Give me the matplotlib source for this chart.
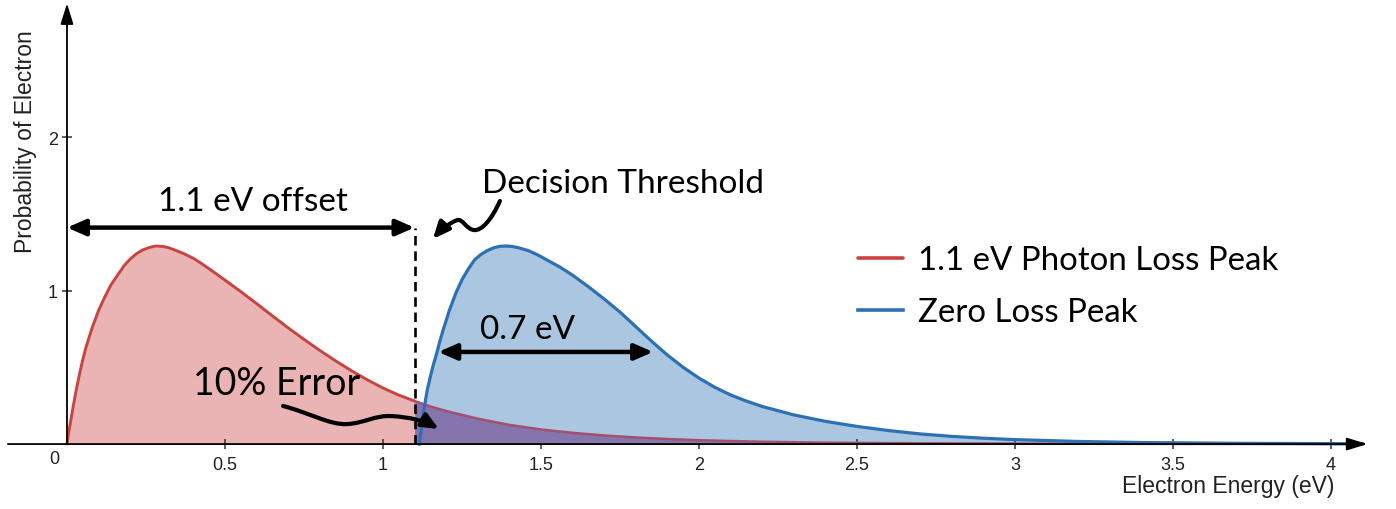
import numpy as np
import matplotlib
matplotlib.use("Agg")
import matplotlib.pyplot as plt
from matplotlib.patches import FancyArrowPatch
from matplotlib.path import Path

# ── data ────────────────────────────────────────────────────────
red_x = [0.000, 0.005, 0.010, 0.020, 0.030, 0.040, 0.050, 0.060, 0.080, 0.100,
         0.120, 0.140, 0.160, 0.180, 0.200, 0.220, 0.240, 0.260, 0.280, 0.300,
         0.320, 0.340, 0.370, 0.400, 0.430, 0.460, 0.500, 0.550, 0.600, 0.650,
         0.700, 0.750, 0.800, 0.850, 0.900, 0.950, 1.000, 1.050, 1.100, 1.150,
         1.200, 1.300, 1.400, 1.500, 1.600, 1.700, 1.800, 1.900, 2.000, 2.200,
         2.400, 2.700, 3.000, 3.500, 4.100]
red_y = [0.00, 0.07, 0.13, 0.25, 0.36, 0.46, 0.55, 0.63, 0.76, 0.87,
         0.96, 1.04, 1.10, 1.16, 1.205, 1.24, 1.265, 1.28, 1.29, 1.288,
         1.28, 1.265, 1.24, 1.21, 1.17, 1.127, 1.068, 0.993, 0.915, 0.835,
         0.757, 0.682, 0.61, 0.542, 0.478, 0.419, 0.365, 0.319, 0.28, 0.245,
         0.215, 0.165, 0.125, 0.095, 0.073, 0.056, 0.043, 0.033, 0.025, 0.015,
         0.009, 0.005, 0.003, 0.001, 0.0]

blue_x = [1.115, 1.120, 1.125, 1.130, 1.140, 1.150, 1.160, 1.170, 1.180, 1.190,
          1.210, 1.230, 1.250, 1.270, 1.290, 1.310, 1.330, 1.350, 1.370, 1.390,
          1.410, 1.430, 1.460, 1.490, 1.520, 1.560, 1.600, 1.650, 1.700, 1.750,
          1.800, 1.850, 1.900, 1.950, 2.000, 2.050, 2.100, 2.150, 2.200, 2.300,
          2.400, 2.500, 2.600, 2.700, 2.800, 2.900, 3.000, 3.200, 3.400, 3.700,
          4.100]
blue_y = [0.00, 0.08, 0.16, 0.23, 0.35, 0.44, 0.52, 0.59, 0.67, 0.74,
          0.87, 0.98, 1.07, 1.14, 1.20, 1.235, 1.26, 1.278, 1.288, 1.29,
          1.287, 1.278, 1.26, 1.232, 1.198, 1.153, 1.10, 1.025, 0.945, 0.86,
          0.765, 0.67, 0.58, 0.50, 0.43, 0.37, 0.32, 0.28, 0.245, 0.19,
          0.148, 0.115, 0.088, 0.066, 0.05, 0.038, 0.029, 0.017, 0.01, 0.005,
          0.002]

threshold = 1.1
offset_y = 1.41
fwhm_x = [1.175, 1.855]
fwhm_y = 0.60

x_ticks = [0.5, 1, 1.5, 2, 2.5, 3, 3.5, 4]
x_ticklabels = ["0.5", "1", "1.5", "2", "2.5", "3", "3.5", "4"]
y_ticks = [1, 2]
y_ticklabels = ["1", "2"]

RED, BLUE = "#c74440", "#2d70b3"
RED_FILL, BLUE_FILL, PURPLE = "#e9b4b3", "#abc6e0", "#8675ad"
ANN_FONT = "Lato"
AX_FONT = "Liberation Sans"

rx, ry = np.array(red_x), np.array(red_y)
bx, by = np.array(blue_x), np.array(blue_y)

# ── canvas ──────────────────────────────────────────────────────
fig = plt.figure(figsize=(13.96, 5.10), dpi=100)
ax = fig.add_axes([0, 0, 1, 1])
ax.set_xlim(-0.212, 4.206)
ax.set_ylim(-0.423, 2.899)

# fills
ax.fill_between(bx, by, 0, color=BLUE_FILL, lw=0, zorder=1)
ax.fill_between(rx, ry, 0, where=rx <= threshold, color=RED_FILL, lw=0, zorder=1)
ax.fill_between(rx, ry, 0, where=rx >= threshold, color=PURPLE, lw=0, zorder=2)

# curves
left = rx <= threshold
right = rx >= threshold
red_line, = ax.plot(rx[left], ry[left], color=RED, lw=2.1, zorder=3,
                    solid_capstyle="round", solid_joinstyle="round",
                    label="1.1 eV Photon Loss Peak")
ax.plot(rx[right], ry[right], color="#a3506f", lw=1.8, zorder=3,
        solid_joinstyle="round")
blue_line, = ax.plot(bx, by, color=BLUE, lw=2.3, zorder=4,
                     solid_joinstyle="round", label="Zero Loss Peak")

# ── axes drawn as arrows through the origin ─────────────────────
for s in ax.spines.values():
    s.set_visible(False)
ax.spines["bottom"].set_position(("data", 0))
ax.spines["left"].set_position(("data", 0))
axis_arrow = dict(arrowstyle="-|>,head_length=0.9,head_width=0.28",
                  lw=1.3, color="black", shrinkA=0, shrinkB=0,
                  mutation_scale=14)
ax.annotate("", xy=(4.115, 0), xytext=(-0.187, 0), zorder=5,
            arrowprops=axis_arrow)
ax.annotate("", xy=(0, 2.87), xytext=(0, 0), zorder=5,
            arrowprops=axis_arrow)

ax.set_xticks(x_ticks)
ax.set_xticklabels(x_ticklabels)
ax.set_yticks(y_ticks)
ax.set_yticklabels(y_ticklabels)
ax.tick_params(direction="inout", length=7, width=1.1, color="#333333",
               labelsize=13, labelcolor="#222222", zorder=6)
ax.tick_params(axis="x", pad=5)
ax.tick_params(axis="y", pad=3)
for lbl in ax.get_xticklabels() + ax.get_yticklabels():
    lbl.set_fontfamily(AX_FONT)
ax.text(-0.04, -0.04, "0", ha="center", va="top", fontsize=13,
        color="#222222", family=AX_FONT)

ax.text(0.0186, 0.7216, "Probability of Electron", transform=ax.transAxes,
        rotation=90, ha="center", va="center", fontsize=16.5,
        color="#222222", family=AX_FONT)
ax.text(0.880, 0.047, "Electron Energy (eV)", transform=ax.transAxes,
        ha="center", va="center", fontsize=16.5, color="#222222",
        family=AX_FONT)

# ── annotations ────────────────────────────────────────────────
ax.plot([threshold, threshold], [0, offset_y], color="black", lw=1.9,
        ls=(0, (3.6, 2.2)), zorder=5)

dbl = dict(arrowstyle="<|-|>,head_length=0.55,head_width=0.24", lw=3.2,
           color="black", shrinkA=0, shrinkB=0, mutation_scale=20)
ax.annotate("", xy=(threshold, offset_y), xytext=(0, offset_y),
            arrowprops=dbl, zorder=6)
ax.annotate("", xy=(fwhm_x[1], fwhm_y), xytext=(fwhm_x[0], fwhm_y),
            arrowprops=dbl, zorder=6)

ax.text(0.59, 1.58, "1.1 eV offset", ha="center", va="center",
        fontsize=24, family=ANN_FONT, zorder=6)
ax.text(1.313, 1.70, "Decision Threshold", ha="left", va="center",
        fontsize=24, family=ANN_FONT, zorder=6)
ax.text(0.665, 0.40, "10% Error", ha="center", va="center",
        fontsize=27, family=ANN_FONT, zorder=6)
ax.text(1.459, 0.75, "0.7 eV", ha="center", va="center",
        fontsize=24, family=ANN_FONT, zorder=6)

C4 = Path.CURVE4
squiggle_dt = Path(
    [(1.370, 1.583), (1.345, 1.466), (1.313, 1.388), (1.288, 1.394),
     (1.263, 1.401), (1.253, 1.466), (1.237, 1.459),
     (1.218, 1.453), (1.180, 1.388), (1.158, 1.336)],
    [Path.MOVETO, C4, C4, C4, C4, C4, C4, C4, C4, C4])
squiggle_err = Path(
    [(0.684, 0.248), (0.769, 0.202), (0.832, 0.124), (0.886, 0.130),
     (0.943, 0.137), (0.975, 0.189), (1.028, 0.182),
     (1.085, 0.176), (1.133, 0.150), (1.177, 0.098)],
    [Path.MOVETO, C4, C4, C4, C4, C4, C4, C4, C4, C4])
for p in (squiggle_dt, squiggle_err):
    ax.add_patch(FancyArrowPatch(
        path=p, arrowstyle="-|>,head_length=0.5,head_width=0.22",
        mutation_scale=20, lw=3.0, color="black", zorder=6))

# legend
ax.legend(handles=[red_line, blue_line], loc="upper left",
          bbox_to_anchor=(0.6146, 0.517), frameon=False,
          prop={"family": ANN_FONT, "size": 23.8}, handlelength=1.36,
          handletextpad=0.45, labelspacing=0.66, borderpad=0,
          borderaxespad=0)
for h in ax.get_legend().legend_handles:
    h.set_linewidth(2.6)

fig.savefig("out.png", dpi=100)
